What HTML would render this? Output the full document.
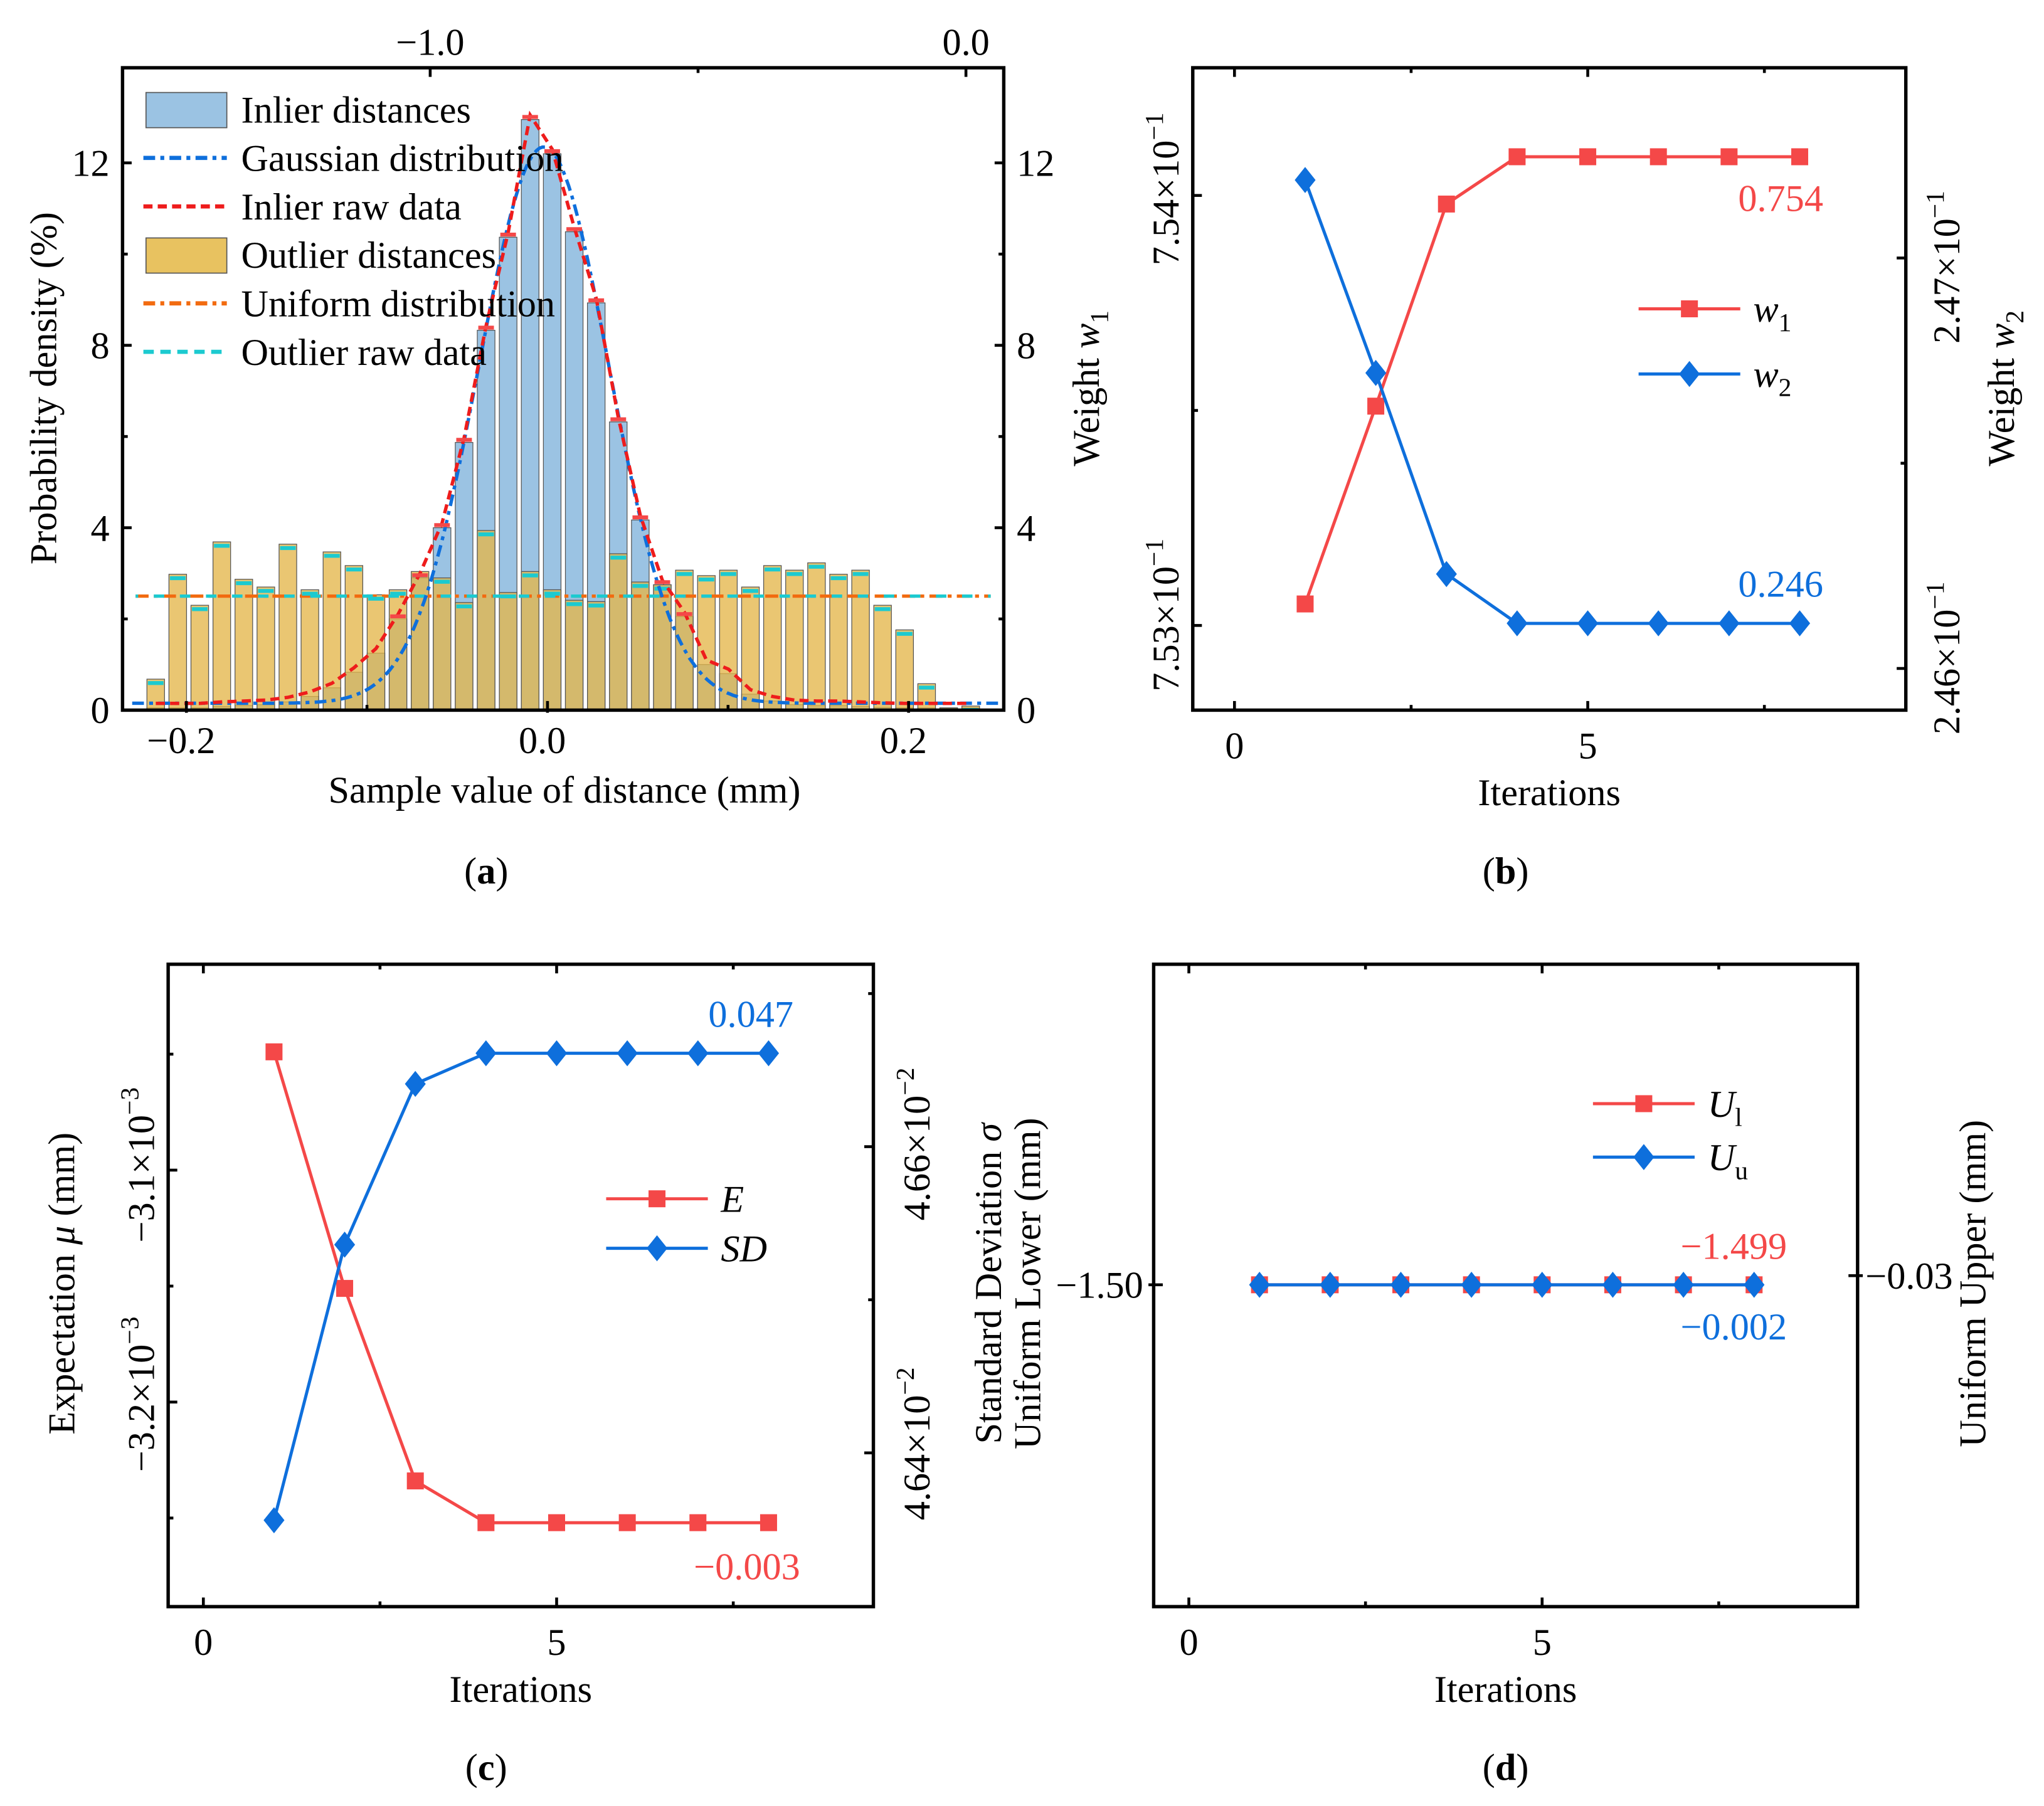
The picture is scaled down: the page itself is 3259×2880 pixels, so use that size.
<!DOCTYPE html>
<html><head><meta charset="utf-8">
<style>
html,body{margin:0;padding:0;background:#fff;}
svg{display:block;}
text{font-family:"Liberation Serif",serif;}
</style></head>
<body>
<svg id="fig" xmlns="http://www.w3.org/2000/svg" width="3259" height="2880" viewBox="0 0 1568 1386" preserveAspectRatio="none"></svg>
<script>
// ---------- Panel (a) data ----------
const binStart = -0.217;
const binStep = 0.0122;
const outlierVals = [0.68,2.98,2.30,3.69,2.87,2.70,3.64,2.64,3.47,3.17,2.53,2.64,3.04,2.90,2.36,3.94,2.58,3.04,2.64,2.41,2.38,3.43,2.81,2.75,3.07,2.95,3.07,2.70,3.17,3.07,3.23,2.98,3.07,2.30,1.76,0.58,0.05,0.09];
const inlierVals = [0.05,0.05,0.05,0.08,0.1,0.12,0.18,0.3,0.49,0.83,1.25,2.0,2.9,4.0,5.87,8.33,10.37,12.95,12.2,10.49,8.93,6.32,4.17,2.75,2.05,1.0,0.8,0.35,0.2,0.12,0.1,0.1,0.08,0.06,0.05,0.05,0.05,0.05];
const gaussParams = [12.2, -0.002, 0.036, 0.15]; // amplitude, mean, sigma, baseline
const uniformLevel = 2.5;
const aXTicks = [-0.2, 0.0, 0.2];
const aXTickLabels = ["\u22120.2","0.0","0.2"];
const aYTicks = [0,4,8,12];
const aTopTicks = [-1.0, 0.0];
const aTopTickLabels = ["\u22121.0","0.0"];
// ---------- Panel (b) data ----------
const iters = [1,2,3,4,5,6,7,8];
const w1Vals = [0.75305,0.75351,0.75398,0.75409,0.75409,0.75409,0.75409,0.75409];
const w2Vals = [0.24719,0.24672,0.24623,0.24611,0.24611,0.24611,0.24611,0.24611];
// ---------- Panel (c) data ----------
const eVals = [-0.003049,-0.003151,-0.003234,-0.003252,-0.003252,-0.003252,-0.003252,-0.003252];
const sdVals = [0.046356,0.046536,0.046641,0.046661,0.046661,0.046661,0.046661,0.046661];
// ---------- Panel (d) data ----------
const ulVals = [-1.50,-1.50,-1.50,-1.50,-1.50,-1.50,-1.50,-1.50];
const uuVals = [-0.03,-0.03,-0.03,-0.03,-0.03,-0.03,-0.03,-0.03];

const NS="http://www.w3.org/2000/svg";
const svg=document.getElementById('fig');
const FS=29;
function mk(tag,attrs,parent){const e=document.createElementNS(NS,tag);for(const k in attrs)e.setAttribute(k,attrs[k]);(parent||svg).appendChild(e);return e;}
function txt(s,x,y,opts,parent){const t=mk('text',Object.assign({x:x,y:y,'font-size':FS,fill:'#000'},opts||{}),parent);t.textContent=s;return t;}
function lin(d0,d1,r0,r1){return v=>r0+(v-d0)*(r1-r0)/(d1-d0);}
const RED="#f44848", BLUE="#0e6fdc";

function frame(x0,y0,x1,y1,name){
  const r=mk('rect',{x:x0,y:y0,width:x1-x0,height:y1-y0,fill:'none',stroke:'#000','stroke-width':2.6});
  
  
}
function tick(x1,y1,x2,y2){mk('line',{x1:x1,y1:y1,x2:x2,y2:y2,stroke:'#000','stroke-width':2.2});}

// ======== Panel A ========
(function(){
  const L=94,R=770,T=52,B=545;
  const X=lin(0,0.2,420,697), Y=lin(0,4,545,405);
  const g=mk('g',{});
  
  
  const cp=mk('clipPath',{id:'clipA'},g); mk('rect',{x:L,y:T,width:R-L,height:B-T},cp);
  const pg=mk('g',{'clip-path':'url(#clipA)'},g);
  const bw=(X(binStep)-X(0))*0.8;
  inlierVals.forEach((v,i)=>{
    const c=binStart+i*binStep;
    const r=mk('rect',{x:X(c)-bw/2,y:Y(v),width:bw,height:Y(0)-Y(v),fill:'#9bc3e3',stroke:'#555','stroke-width':0.6},pg);
    
    
  });
  outlierVals.forEach((v,i)=>{
    const c=binStart+i*binStep;
    const r=mk('rect',{x:X(c)-bw/2,y:Y(v),width:bw,height:Y(0)-Y(v),fill:'#e4b64a','fill-opacity':0.78,stroke:'#555','stroke-width':0.6},pg);
    
    
  });
  const ul=mk('line',{x1:L+10,x2:R-10,y1:Y(uniformLevel),y2:Y(uniformLevel),stroke:'#f26b10','stroke-width':2.5,'stroke-dasharray':'10 4 3 4'},pg);
  
  
  const cl=mk('line',{x1:L+10,x2:R-10,y1:Y(uniformLevel),y2:Y(uniformLevel),stroke:'#1ccad0','stroke-width':2.5,'stroke-dasharray':'8 12','stroke-dashoffset':6},pg);
  
  
  outlierVals.forEach((v,i)=>{
    const c=binStart+i*binStep;
    const m=mk('line',{x1:X(c)-6,x2:X(c)+6,y1:Y(v)+3,y2:Y(v)+3,stroke:'#1ccad0','stroke-width':3},pg);
    
    
  });
  const [A,mu,s,b0]=gaussParams; let d='';
  for(let k=0;k<=300;k++){const xv=-0.23+k*(0.48/300);const yv=b0+A*Math.exp(-Math.pow(xv-mu,2)/(2*s*s));d+=(k?'L':'M')+X(xv).toFixed(1)+' '+Y(yv).toFixed(1);}
  const gp=mk('path',{d:d,fill:'none',stroke:BLUE,'stroke-width':2.6,'stroke-dasharray':'9 4 3 4'},pg);
  
  
  let d2='';
  inlierVals.forEach((v,i)=>{const c=binStart+i*binStep;d2+=(i?'L':'M')+X(c).toFixed(1)+' '+Y(v+0.1).toFixed(1);});
  const rp=mk('path',{d:d2,fill:'none',stroke:'#ee1c1c','stroke-width':2.6,'stroke-dasharray':'7 4'},pg);
  
  
  inlierVals.forEach((v,i)=>{
    if(v<2) return;
    const c=binStart+i*binStep;
    const m=mk('line',{x1:X(c)-6,x2:X(c)+6,y1:Y(v)-2,y2:Y(v)-2,stroke:RED,'stroke-width':3},pg);
    
    
  });
  frame(L,T,R,B,'panel-a-frame');
  aXTicks.forEach((t,i)=>{tick(X(t),B,X(t),B-7);tick(X(t),B,X(t),B+2);const l=txt(aXTickLabels[i],X(t)-4,578,{'text-anchor':'middle'});});
  [-0.1,0.1].forEach(t=>tick(X(t),B,X(t),B-4));
  const TX=lin(-1,0,330,741);
  aTopTicks.forEach((t,i)=>{tick(TX(t),T,TX(t),T+7);const l=txt(aTopTickLabels[i],TX(t),42,{'text-anchor':'middle'});});
  tick(TX(-0.5),T,TX(-0.5),T+4);
  aYTicks.forEach(t=>{tick(L,Y(t),L+7,Y(t));tick(R,Y(t),R-7,Y(t));
    const l=txt(String(t),84,Y(t)+10,{'text-anchor':'end'});
    const r=txt(String(t),780,Y(t)+10,{});});
  [2,6,10].forEach(t=>{tick(L,Y(t),L+4,Y(t));tick(R,Y(t),R-4,Y(t));});
  const xt=txt('Sample value of distance (mm)',433,616,{'text-anchor':'middle'});
  const yt=txt('Probability density (%)',0,0,{'text-anchor':'middle',transform:'translate(43,298) rotate(-90)'});
  const items=[['patch','#9bc3e3','Inlier distances'],['line',BLUE,'Gaussian distribution','9 4 3 4'],['line','#ee1c1c','Inlier raw data','7 4'],['patch','#e8c260','Outlier distances'],['line','#f26b10','Uniform distribution','9 4 3 4'],['line','#1ccad0','Outlier raw data','8 5']];
  items.forEach((it,k)=>{
    const yy=84+k*37.2;
    const lg=mk('g',{});
    
    
    if(it[0]=='patch') mk('rect',{x:112,y:yy-13,width:62,height:27,fill:it[1],stroke:'#555','stroke-width':0.8},lg);
    else mk('line',{x1:110,x2:174,y1:yy,y2:yy,stroke:it[1],'stroke-width':3.2,'stroke-dasharray':it[3]},lg);
    txt(it[2],185,yy+10,{},lg);
  });
})();

function iterPanel(name,L,T,R,B,x0px){
  const X=lin(0,5,x0px,x0px+271);
  frame(L,T,R,B,name+'-frame');
  [0,5].forEach(t=>{tick(X(t),B,X(t),B-7);tick(X(t),T,X(t),T+7);
    const l=txt(String(t),X(t),B+37,{'text-anchor':'middle'});});
  [2.5,7.5].forEach(t=>{tick(X(t),B,X(t),B-4);tick(X(t),T,X(t),T+4);});
  const xt=txt('Iterations',(L+R)/2,B+73,{'text-anchor':'middle'});
  return X;
}
function series(X,Y,vals,color,marker,name){
  const g=mk('g',{});
  
  
  let d='';vals.forEach((v,i)=>{d+=(i?'L':'M')+X(iters[i]).toFixed(1)+' '+Y(v).toFixed(1);});
  mk('path',{d:d,fill:'none',stroke:color,'stroke-width':2.4},g);
  vals.forEach((v,i)=>{const x=X(iters[i]),y=Y(v);
    if(marker=='sq') mk('rect',{x:x-6.5,y:y-6.5,width:13,height:13,fill:color},g);
    else mk('path',{d:`M${x} ${y-10}L${x+8} ${y}L${x} ${y+10}L${x-8} ${y}Z`,fill:color},g);});
}
function legendRow(x,y,color,marker,label,sub){
  const g=mk('g',{});
  
  
  mk('line',{x1:x,x2:x+78,y1:y,y2:y,stroke:color,'stroke-width':2.4},g);
  const cx=x+39;
  if(marker=='sq') mk('rect',{x:cx-6.5,y:y-6.5,width:13,height:13,fill:color},g);
  else mk('path',{d:`M${cx} ${y-10}L${cx+8} ${y}L${cx} ${y+10}L${cx-8} ${y}Z`,fill:color},g);
  const t=txt('',x+88,y+10,{'font-style':'italic'},g);
  const a=document.createElementNS(NS,'tspan');a.textContent=label;t.appendChild(a);
  if(sub){const s=document.createElementNS(NS,'tspan');s.setAttribute('font-size',20);s.setAttribute('font-style','normal');s.setAttribute('dy',7);s.textContent=sub;t.appendChild(s);}
}
function sciLabel(x,y,base,exp,name){
  const t=txt('',0,0,{'text-anchor':'middle',transform:`translate(${x},${y}) rotate(-90)`});
  
  
  const a=document.createElementNS(NS,'tspan');a.textContent=base+'\u00d710';t.appendChild(a);
  const s=document.createElementNS(NS,'tspan');s.setAttribute('font-size',20);s.setAttribute('dy',-12);s.textContent=exp;t.appendChild(s);
}
function rotTitle(x,y,parts,name){
  const t=txt('',0,0,{'text-anchor':'middle',transform:`translate(${x},${y}) rotate(-90)`});
  
  
  parts.forEach(p=>{const s=document.createElementNS(NS,'tspan');s.textContent=p[0];if(p[1])for(const k in p[1])s.setAttribute(k,p[1][k]);t.appendChild(s);});
}
function valLabel(s,x,y,color,name){const t=txt(s,x,y,{'text-anchor':'middle',fill:color});}

// ======== Panel B ========
(function(){
  const L=915,T=52,R=1462,B=545;
  const X=iterPanel('panel-b',L,T,R,B,947);
  const Y1=lin(0.753,0.754,480,150), Y2=lin(0.246,0.247,513,198);
  [0.753,0.754].forEach(t=>tick(L,Y1(t),L+7,Y1(t)));tick(L,Y1(0.7535),L+4,Y1(0.7535));
  [0.246,0.247].forEach(t=>tick(R,Y2(t),R-7,Y2(t)));tick(R,Y2(0.2465),R-4,Y2(0.2465));
  sciLabel(904,145,'7.54','\u22121','left-tick-label');
  sciLabel(904,472,'7.53','\u22121','left-tick-label');
  sciLabel(1503,205,'2.47','\u22121','right-tick-label');
  sciLabel(1503,505,'2.46','\u22121','right-tick-label');
  rotTitle(843,298,[['Weight '],['w',{'font-style':'italic'}],['1',{'font-size':20,dy:7}]],'left-axis-title');
  rotTitle(1545,298,[['Weight '],['w',{'font-style':'italic'}],['2',{'font-size':20,dy:7}]],'right-axis-title');
  series(X,Y1,w1Vals,RED,'sq','series-w1');
  series(X,Y2,w2Vals,BLUE,'di','series-w2');
  legendRow(1257,237,RED,'sq','w','1');
  legendRow(1257,287,BLUE,'di','w','2');
  valLabel('0.754',1366,162,RED,'w1-final-label');
  valLabel('0.246',1366,458,BLUE,'w2-final-label');
})();

// ======== Panel C ========
(function(){
  const L=129,T=740,R=670,B=1233;
  const X=iterPanel('panel-c',L,T,R,B,156);
  const Y1=lin(-0.0031,-0.0032,898,1076), Y2=lin(0.0466,0.0464,880,1115);
  [-0.0031,-0.0032].forEach(t=>tick(L,Y1(t),L+7,Y1(t)));[-0.00305,-0.00315,-0.00325].forEach(t=>tick(L,Y1(t),L+4,Y1(t)));
  [0.0466,0.0464].forEach(t=>tick(R,Y2(t),R-7,Y2(t)));[0.0465,0.0467].forEach(t=>tick(R,Y2(t),R-4,Y2(t)));
  sciLabel(118,894,'\u22123.1','\u22123','left-tick-label');
  sciLabel(118,1070,'\u22123.2','\u22123','left-tick-label');
  sciLabel(713,878,'4.66','\u22122','right-tick-label');
  sciLabel(713,1108,'4.64','\u22122','right-tick-label');
  rotTitle(57,985,[['Expectation '],['\u03bc',{'font-style':'italic'}],[' (mm)']],'left-axis-title');
  rotTitle(768,985,[['Standard Deviation '],['\u03c3',{'font-style':'italic'}]],'right-axis-title');
  series(X,Y1,eVals,RED,'sq','series-e');
  series(X,Y2,sdVals,BLUE,'di','series-sd');
  legendRow(465,920,RED,'sq','E','');
  legendRow(465,958,BLUE,'di','SD','');
  valLabel('0.047',576,788,BLUE,'sd-final-label');
  valLabel('\u22120.003',573,1212,RED,'e-final-label');
})();

// ======== Panel D ========
(function(){
  const L=885,T=740,R=1425,B=1233;
  const X=iterPanel('panel-d',L,T,R,B,912);
  const Y1=lin(-1.50,-1.49,986,886), Y2=lin(-0.03,-0.02,986,886);
  tick(L,986,L+7,986);tick(L-4,986,L,986);tick(R,979,R-7,979);tick(R,979,R+4,979);
  const l=txt('\u22121.50',877,996,{'text-anchor':'end'});
  const r=txt('\u22120.03',1431,989,{});
  rotTitle(798,985,[['Uniform Lower (mm)']],'left-axis-title');
  rotTitle(1523,985,[['Uniform Upper (mm)']],'right-axis-title');
  series(X,Y1,ulVals,RED,'sq','series-ul');
  series(X,Y2,uuVals,BLUE,'di','series-uu');
  legendRow(1222,847,RED,'sq','U','l');
  legendRow(1222,888,BLUE,'di','U','u');
  valLabel('\u22121.499',1330,966,RED,'ul-final-label');
  valLabel('\u22120.002',1330,1028,BLUE,'uu-final-label');
})();

[['a',373,678],['b',1155,678],['c',373,1366],['d',1155,1366]].forEach(c=>{
  const t=txt('',c[1],c[2],{'text-anchor':'middle'});
  
  
  const a=document.createElementNS(NS,'tspan');a.textContent='(';t.appendChild(a);
  const b=document.createElementNS(NS,'tspan');b.setAttribute('font-weight','bold');b.textContent=c[0];t.appendChild(b);
  const d=document.createElementNS(NS,'tspan');d.textContent=')';t.appendChild(d);
});
</script>
</body></html>
